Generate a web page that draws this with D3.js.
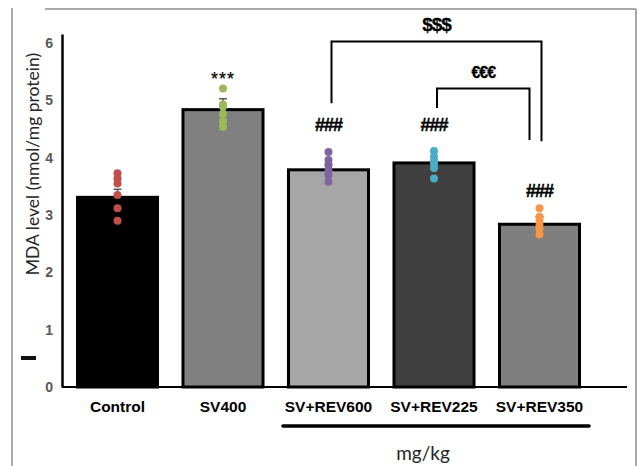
<!DOCTYPE html>
<html>
<head>
<meta charset="utf-8">
<script src="https://cdn.jsdelivr.net/npm/d3@7"></script>
<style>
  body { margin: 0; background: #fff; }
  svg { display: block; }
</style>
</head>
<body>
<div id="vis"></div>
<script>
// chart values
const categories = ["Control", "SV400", "SV+REV600", "SV+REV225", "SV+REV350"];
const means = [3.31, 4.84, 3.79, 3.91, 2.84];
const sems = [0.14, 0.19, 0.10, 0.12, 0.13];
const barColors = ["#000000", "#808080", "#a6a6a6", "#404040", "#7f7f7f"];
const dotColors = ["#c0504d", "#9bbb59", "#8064a2", "#4bacc6", "#f79646"];
const dots = [
    [3.73, 3.64, 3.55, 3.35, 3.12, 2.90],
    [5.21, 4.93, 4.89, 4.77, 4.64, 4.54],
    [4.10, 3.96, 3.87, 3.78, 3.70, 3.58],
    [4.12, 4.02, 3.95, 3.90, 3.82, 3.64],
    [3.12, 2.97, 2.90, 2.83, 2.76, 2.66]
];
const sigLabels = ["", "***", "###", "###", "###"];
const sigLevels = [0, 5.44, 4.57, 4.57, 3.42];
const yTicks = [0, 1, 2, 3, 4, 5, 6];
// brackets: from group, to group, top level, left foot, right foot, label
const brackets = [
    { from: "SV+REV600", to: "SV+REV350", top: 6.03, left: 4.95, right: 4.29, label: "$$$", dx: 2 },
    { from: "SV+REV225", to: "SV+REV350", top: 5.21, left: 4.87, right: 4.31, label: "€€€", dx: -10 }
];
const doseGroups = ["SV+REV600", "SV+REV350"];

const W = 639, H = 466;
const svg = d3.select("#vis").append("svg").attr("width", W).attr("height", H);

// outer frame (partial, like the pasted figure)
const frame = svg.append("g").attr("stroke", "#8c8c8c").attr("stroke-width", 1.5).attr("fill", "none");
frame.append("line").attr("x1", 45).attr("x2", 636).attr("y1", 9).attr("y2", 9);
frame.append("line").attr("x1", 12).attr("x2", 12).attr("y1", 8).attr("y2", H);
frame.append("line").attr("x1", 636).attr("x2", 636).attr("y1", 9).attr("y2", H);

const x = d3.scaleBand().domain(categories).range([64.75, 592.25]).paddingInner(0.213).paddingOuter(0.1065);
const y = d3.scaleLinear().domain([0, 6.16]).range([387, 34]);

// bars
svg.append("g").selectAll("rect")
    .data(categories)
    .enter()
    .append("rect")
    .attr("x", d => x(d) + 1.5)
    .attr("width", x.bandwidth() - 3)
    .attr("y", (d, i) => y(means[i]))
    .attr("height", (d, i) => y(0) - y(means[i]))
    .attr("fill", (d, i) => barColors[i])
    .attr("stroke", "#000")
    .attr("stroke-width", 3);

// error bars
const eb = svg.append("g").attr("stroke", "#595959").attr("stroke-width", 1.5);
categories.forEach((c, i) => {
    const cx = x(c) + x.bandwidth() / 2;
    eb.append("line").attr("x1", cx).attr("x2", cx).attr("y1", y(means[i])).attr("y2", y(means[i] + sems[i]));
    eb.append("line").attr("x1", cx - 4).attr("x2", cx + 4).attr("y1", y(means[i] + sems[i])).attr("y2", y(means[i] + sems[i]));
});

// data points
categories.forEach((c, i) => {
    svg.append("g").selectAll("circle")
        .data(dots[i])
        .enter()
        .append("circle")
        .attr("cx", x(c) + x.bandwidth() / 2)
        .attr("cy", d => y(d))
        .attr("r", 4)
        .attr("fill", dotColors[i]);
});

// y axis
const yAxis = svg.append("g")
    .attr("transform", "translate(62,0)")
    .call(d3.axisLeft(y).tickValues(yTicks).tickSize(0).tickPadding(9).tickFormat(d3.format("d")));
yAxis.select(".domain").attr("stroke", "#000").attr("stroke-width", 2.5);
yAxis.selectAll("text")
    .attr("font-family", "Liberation Sans, Arial, sans-serif")
    .attr("font-size", 14)
    .attr("font-weight", "bold")
    .attr("fill", "#595959");

// x axis baseline
svg.append("line")
    .attr("x1", 62).attr("x2", 627)
    .attr("y1", y(0)).attr("y2", y(0))
    .attr("stroke", "#000").attr("stroke-width", 2);

// category labels
svg.append("g").selectAll("text")
    .data(categories)
    .enter()
    .append("text")
    .attr("x", d => x(d) + x.bandwidth() / 2)
    .attr("y", 412)
    .attr("text-anchor", "middle")
    .attr("font-family", "Liberation Sans, Arial, sans-serif")
    .attr("font-size", 15.5)
    .attr("font-weight", "bold")
    .attr("fill", "#000")
    .text(d => d);

// dose group underline and unit
svg.append("line")
    .attr("x1", x(doseGroups[0]) - 4)
    .attr("x2", x(doseGroups[1]) + x.bandwidth() + 8)
    .attr("y1", 426).attr("y2", 426)
    .attr("stroke", "#000").attr("stroke-width", 3.5).attr("stroke-linecap", "round");
svg.append("text")
    .attr("x", 423).attr("y", 460)
    .attr("text-anchor", "middle")
    .attr("font-family", "Lato, Open Sans, sans-serif")
    .attr("font-size", 19)
    .attr("fill", "#262626")
    .text("mg/kg");

// y title
svg.append("text")
    .attr("transform", "translate(39,164) rotate(-90)")
    .attr("text-anchor", "middle")
    .attr("font-family", "Lato, Open Sans, sans-serif")
    .attr("font-size", 17.5)
    .attr("fill", "#262626")
    .text("MDA level (nmol/mg protein)");

// stray mark left of the axis
svg.append("rect").attr("x", 21).attr("y", 356).attr("width", 15).attr("height", 4).attr("fill", "#111");

// significance labels
svg.append("g").selectAll("text")
    .data(categories)
    .enter()
    .append("text")
    .attr("x", d => x(d) + x.bandwidth() / 2)
    .attr("y", (d, i) => y(sigLevels[i]))
    .attr("dy", (d, i) => sigLabels[i] === "***" ? "0.55em" : "0.35em")
    .attr("text-anchor", "middle")
    .attr("font-family", "Liberation Sans, Arial, sans-serif")
    .attr("font-size", (d, i) => sigLabels[i] === "***" ? 18 : 18)
    .attr("font-weight", (d, i) => sigLabels[i] === "***" ? "normal" : "bold")
    .attr("letter-spacing", (d, i) => sigLabels[i] === "***" ? 1 : -1)
    .attr("fill", "#000")
    .attr("stroke", "#000")
    .attr("stroke-width", (d, i) => sigLabels[i] === "***" ? 0.2 : 0.4)
    .text((d, i) => sigLabels[i]);

// comparison brackets
brackets.forEach(b => {
    const x1 = x(b.from) + x.bandwidth() / 2 + 3;
    const x2 = x(b.to) + x.bandwidth() / 2 + b.dx;
    svg.append("path")
        .attr("d", d3.line()([[x1, y(b.left)], [x1, y(b.top)], [x2, y(b.top)], [x2, y(b.right)]]))
        .attr("fill", "none")
        .attr("stroke", "#000")
        .attr("stroke-width", 2);
    svg.append("text")
        .attr("x", (x1 + x2) / 2)
        .attr("y", y(b.top) - 10)
        .attr("text-anchor", "middle")
        .attr("font-family", "Liberation Sans, Arial, sans-serif")
        .attr("font-size", b.label === "$$$" ? 19 : 16)
        .attr("font-weight", "bold")
        .attr("letter-spacing", -1)
        .attr("fill", "#000")
        .attr("stroke", "#000")
        .attr("stroke-width", 0.3)
        .text(b.label);
});
</script>
</body>
</html>
